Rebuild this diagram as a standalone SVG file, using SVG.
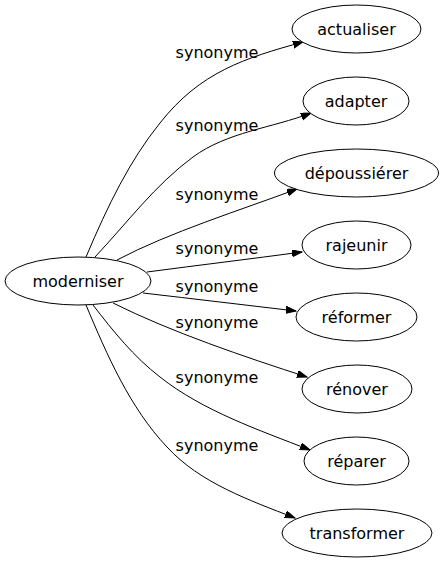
<svg xmlns="http://www.w3.org/2000/svg" width="444" height="563" viewBox="0 0 444 563">
<style>
.node ellipse{fill:#fff;stroke:#000;stroke-width:1}
text{font-family:"DejaVu Sans","Liberation Sans",sans-serif;font-size:16px;fill:#000}
.node text{text-anchor:middle}
.edge path{fill:none;stroke:#000;stroke-width:1;marker-end:url(#arr)}
.lbl{text-anchor:middle}
</style>
<defs>
<marker id="arr" markerUnits="userSpaceOnUse" markerWidth="11" markerHeight="8" refX="10" refY="3.5" orient="auto" viewBox="0 0 11 8">
<path d="M0,0 L10,3.5 L0,7 z" fill="#000" stroke="#000" stroke-width="1"/>
</marker>
</defs>
<rect width="444" height="563" fill="#fff"/>
<g id="edges" class="edge">
<path d="M86,257 C108,205 130,160 160,123 C200,72 245,58 303,42"/>
<path d="M95,257 C127,223 155,185 193,157 C227,132 272,128 311,113"/>
<path d="M117,260 C170,232 241,210 297,189"/>
<path d="M147,272 C200,265 250,259 302,252"/>
<path d="M143,293 C195,299 245,305 296,311"/>
<path d="M113,303 C171,332 245,357 307,377"/>
<path d="M93,305 C113,331 134,357 160,377 C203,411 259,430 310,450"/>
<path d="M86,305 C107,355 130,408 167,447 C200,483 249,500 295,518"/>
</g>
<g id="labels">
<text class="lbl" x="217" y="58">synonyme</text>
<text class="lbl" x="217" y="131">synonyme</text>
<text class="lbl" x="217" y="200">synonyme</text>
<text class="lbl" x="217" y="254">synonyme</text>
<text class="lbl" x="217" y="292">synonyme</text>
<text class="lbl" x="217" y="328">synonyme</text>
<text class="lbl" x="217" y="383">synonyme</text>
<text class="lbl" x="217" y="451">synonyme</text>
</g>
<g id="moderniser" class="node"><ellipse cx="78" cy="281" rx="73" ry="24"/><text x="78" y="287">moderniser</text></g>
<g id="actualiser" class="node"><ellipse cx="356.5" cy="29" rx="64.5" ry="24"/><text x="356.5" y="35">actualiser</text></g>
<g id="adapter" class="node"><ellipse cx="356" cy="101" rx="53" ry="24"/><text x="356" y="107">adapter</text></g>
<g id="depoussierer" class="node"><ellipse cx="356.5" cy="173" rx="82" ry="24"/><text x="356.5" y="179">dépoussiérer</text></g>
<g id="rajeunir" class="node"><ellipse cx="356.5" cy="245" rx="54.5" ry="24"/><text x="356.5" y="251">rajeunir</text></g>
<g id="reformer" class="node"><ellipse cx="356.5" cy="317" rx="60.5" ry="24"/><text x="356.5" y="323">réformer</text></g>
<g id="renover" class="node"><ellipse cx="357" cy="389" rx="55" ry="24"/><text x="357" y="395">rénover</text></g>
<g id="reparer" class="node"><ellipse cx="356.5" cy="461" rx="52.5" ry="24"/><text x="356.5" y="467">réparer</text></g>
<g id="transformer" class="node"><ellipse cx="357" cy="533" rx="75" ry="24"/><text x="357" y="539">transformer</text></g>
</svg>
